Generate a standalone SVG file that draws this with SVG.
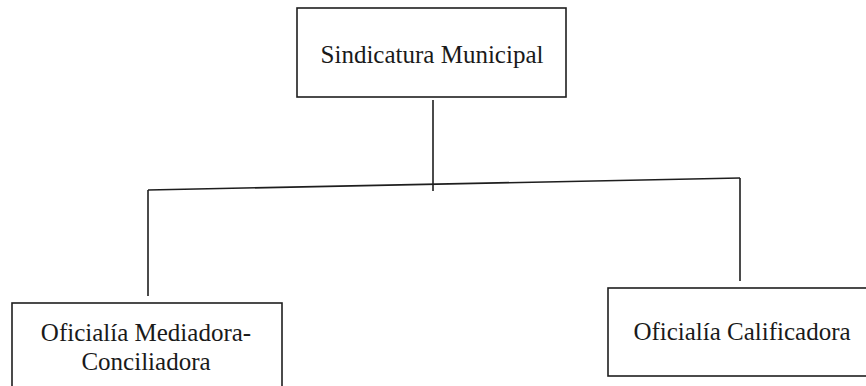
<svg xmlns="http://www.w3.org/2000/svg" width="866" height="386" viewBox="0 0 866 386">
<style>
.box{fill:none;stroke:#1e1e1e;stroke-width:1.6}
.lbl{font-family:'Liberation Serif','Times New Roman','DejaVu Serif',serif;font-size:25px;fill:#1a1a1a;text-anchor:middle}
.con{fill:none;stroke:#1e1e1e;stroke-width:1.6}
</style>
<rect width="866" height="386" fill="#ffffff"/>
<g id="connectors">
<line class="con" x1="433" y1="100" x2="433" y2="191"/>
<line class="con" x1="148" y1="190" x2="740" y2="178"/>
<line class="con" x1="148" y1="190" x2="148" y2="296"/>
<line class="con" x1="740" y1="178" x2="740" y2="281"/>
</g>
<g id="sindicatura">
<rect class="box" x="297" y="8" width="269" height="89"/>
<text class="lbl" x="432" y="63" font-family="Liberation Serif, serif">Sindicatura Municipal</text>
</g>
<g id="mediadora">
<rect class="box" x="12" y="303" width="270" height="100"/>
<text class="lbl" x="146" y="341" font-family="Liberation Serif, serif">Oficialía Mediadora-</text>
<text class="lbl" x="146" y="370" font-family="Liberation Serif, serif">Conciliadora</text>
</g>
<g id="calificadora">
<rect class="box" x="608" y="288" width="270" height="88"/>
<text class="lbl" x="742" y="340" font-family="Liberation Serif, serif">Oficialía Calificadora</text>
</g>
</svg>
